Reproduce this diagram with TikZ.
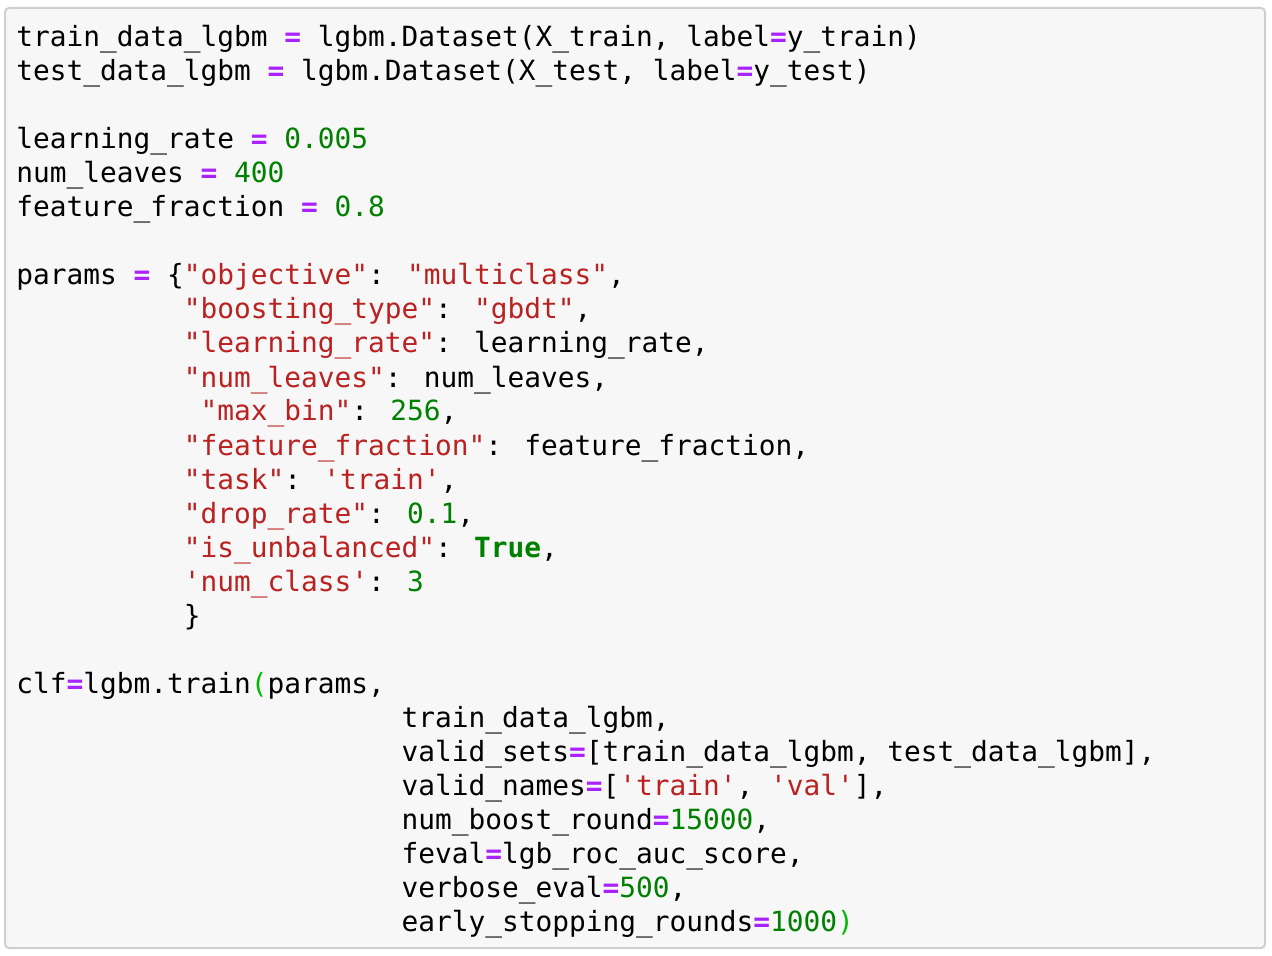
\documentclass[tikz,border=0pt]{standalone}
\usepackage{fontspec}
\newfontfamily\codefont{DejaVu Sans Mono}

\definecolor{codebg}{HTML}{F7F7F7}
\definecolor{codeframe}{HTML}{CFCFCF}
\definecolor{pyop}{HTML}{AA22FF}
\definecolor{pystr}{HTML}{BA2121}
\definecolor{pynum}{HTML}{008000}
\definecolor{pybrk}{HTML}{00BB00}

\newcommand{\eqop}{\textcolor{pyop}{\bfseries=}}
\newcommand{\pystring}[1]{\textcolor{pystr}{#1}}
\newcommand{\pynumber}[1]{\textcolor{pynum}{#1}}
\newcommand{\pytrue}{\textcolor{pynum}{\bfseries True}}
\newcommand{\pybracket}[1]{\textcolor{pybrk}{#1}}
\newcommand{\cw}{16.75}

\tikzset{
  cell/.style={rounded corners=2pt, fill=codebg, draw=codeframe, line width=1pt},
  code/.style={anchor=base west, inner sep=0pt,
    font=\codefont\fontsize{13.91}{17}\selectfont},
}

\begin{document}
\begin{tikzpicture}[x=0.5pt, y=-0.5pt]
  \useasboundingbox (0,0) rectangle (1272,956);
  \draw[cell] (5,8) rectangle (1265,948);

  \node[code] (trainset) at (16,47) {train\_data\_lgbm \eqop{} lgbm.Dataset(X\_train, label\eqop{}y\_train)};
  \node[code] (testset) at (16,81) {test\_data\_lgbm \eqop{} lgbm.Dataset(X\_test, label\eqop{}y\_test)};

  \node[code] (lrate) at (16,149) {learning\_rate \eqop{} \pynumber{0.005}};
  \node[code] (leaves) at (16,183) {num\_leaves \eqop{} \pynumber{400}};
  \node[code] (ffrac) at (16,217) {feature\_fraction \eqop{} \pynumber{0.8}};

  % parameter dict
  \node[code] (params) at (16,285) {params \eqop{} \{\pystring{"objective"}: \pystring{"multiclass"},};
  \node[code] (pboost) at ({16+10*\cw},319) {\pystring{"boosting\_type"}: \pystring{"gbdt"},};
  \node[code] (plrate) at ({16+10*\cw},353) {\pystring{"learning\_rate"}: learning\_rate,};
  \node[code] (pleaves) at ({16+10*\cw},387) {\pystring{"num\_leaves"}: num\_leaves,};
  \node[code] (pbin) at ({16+11*\cw},421) {\pystring{"max\_bin"}: \pynumber{256},};
  \node[code] (pffrac) at ({16+10*\cw},455) {\pystring{"feature\_fraction"}: feature\_fraction,};
  \node[code] (ptask) at ({16+10*\cw},489) {\pystring{"task"}: \pystring{'train'},};
  \node[code] (pdrop) at ({16+10*\cw},523) {\pystring{"drop\_rate"}: \pynumber{0.1},};
  \node[code] (punbal) at ({16+10*\cw},557) {\pystring{"is\_unbalanced"}: \pytrue,};
  \node[code] (pclass) at ({16+10*\cw},591) {\pystring{'num\_class'}: \pynumber{3}};
  \node[code] (pclose) at ({16+10*\cw},625) {\}};

  % training call
  \node[code] (clf) at (16,693) {clf\eqop{}lgbm.train\pybracket{(}params,};
  \node[code] (aset) at ({16+23*\cw},727) {train\_data\_lgbm,};
  \node[code] (avalid) at ({16+23*\cw},761) {valid\_sets\eqop{}[train\_data\_lgbm, test\_data\_lgbm],};
  \node[code] (anames) at ({16+23*\cw},795) {valid\_names\eqop{}[\pystring{'train'}, \pystring{'val'}],};
  \node[code] (around) at ({16+23*\cw},829) {num\_boost\_round\eqop{}\pynumber{15000},};
  \node[code] (afeval) at ({16+23*\cw},863) {feval\eqop{}lgb\_roc\_auc\_score,};
  \node[code] (averb) at ({16+23*\cw},897) {verbose\_eval\eqop{}\pynumber{500},};
  \node[code] (astop) at ({16+23*\cw},931) {early\_stopping\_rounds\eqop{}\pynumber{1000}\pybracket{)}};
\end{tikzpicture}
\end{document}
